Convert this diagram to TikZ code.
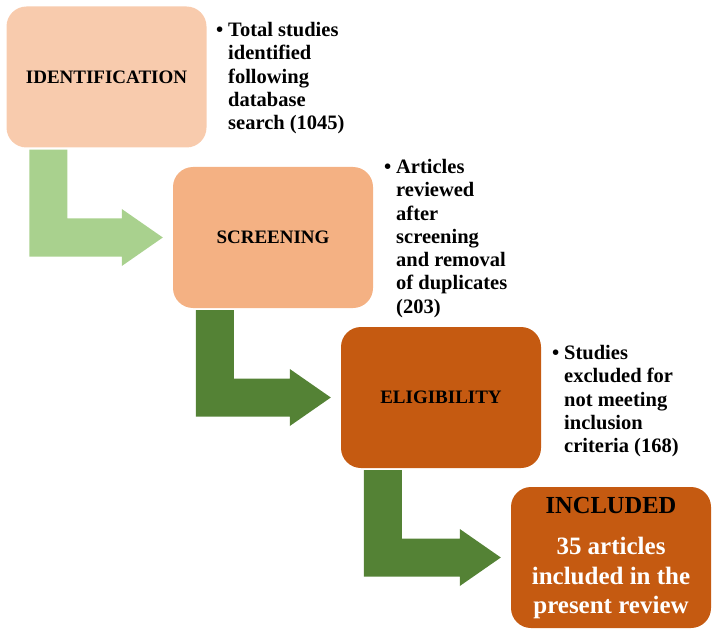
\documentclass[tikz,border=0pt]{standalone}
\usepackage{fontspec}
\setmainfont{Liberation Serif}
\usetikzlibrary{calc}
\definecolor{peachA}{HTML}{F8CBAD}
\definecolor{peachB}{HTML}{F4B183}
\definecolor{rust}{HTML}{C55A11}
\definecolor{lgreen}{HTML}{A9D18E}
\definecolor{dgreen}{HTML}{548235}
\newcommand\bentarrow[3]{%
  \fill[#3] let \p1=(#1.south west), \p2=(#2.west) in
    (\x1+23pt,\y1-2pt) -- (\x1+61pt,\y1-2pt) -- (\x1+61pt,\y2+19pt)
    -- (\x2-51pt,\y2+19pt) -- (\x2-51pt,\y2+28.5pt) -- (\x2-10pt,\y2)
    -- (\x2-51pt,\y2-28.5pt) -- (\x2-51pt,\y2-19pt) -- (\x1+23pt,\y2-19pt) -- cycle;}
\begin{document}
\begin{tikzpicture}[x=1pt,y=-1pt,
  stagebox/.style={rounded corners=20pt, minimum width=200pt, minimum height=141pt,
    inner sep=0pt, align=center, font=\fontsize{19}{23}\selectfont\bfseries},
  note/.style={anchor=north west, inner sep=0pt, align=left,
    font=\fontsize{20.5}{23.3}\selectfont\bfseries}]
\useasboundingbox (0,0) rectangle (719,636);
\node[stagebox, fill=peachA] (b1) at (106.5,77) {IDENTIFICATION};
\node[stagebox, fill=peachB] (b2) at (273,237.5) {SCREENING};
\node[stagebox, fill=rust] (b3) at (441,397.5) {ELIGIBILITY};
\node[stagebox, fill=rust, text=white, font=\fontsize{25}{29.5}\selectfont\bfseries,
  text depth=4pt] (b4) at (611,557.5)
  {\textcolor{black}{\fontsize{24.5}{29.5}\selectfont INCLUDED}\\[11.5pt]35 articles\\included in the\\present review};
\bentarrow{b1}{b2}{lgreen}
\bentarrow{b2}{b3}{dgreen}
\bentarrow{b3}{b4}{dgreen}
\node[note] (n1) at (228,22) {\llap{\textbullet\hspace{5pt}}Total studies\\identified\\following\\database\\search (1045)};
\node[note] (n2) at (396,159) {\llap{\textbullet\hspace{5pt}}Articles\\reviewed\\after\\screening\\and removal\\of duplicates\\(203)};
\node[note] (n3) at (564,345) {\llap{\textbullet\hspace{5pt}}Studies\\excluded for\\not meeting\\inclusion\\criteria (168)};
\end{tikzpicture}
\end{document}
